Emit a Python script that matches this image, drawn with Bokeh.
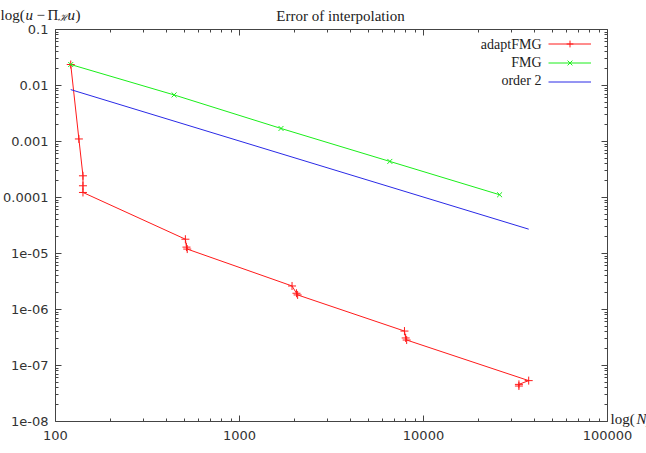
from bokeh.plotting import figure
from bokeh.models import LogAxis, FixedTicker, Label, Legend, LegendItem, Range1d
from bokeh.embed import file_html
from bokeh.resources import INLINE

# ---- data ----
adapt_n = [121, 134, 141, 141, 141, 508, 515, 520, 1930, 2040, 2070, 7880, 8000, 8100, 37300, 33000, 33000]
adapt_err = [0.0237, 1.11e-3, 2.44e-4, 1.62e-4, 1.23e-4, 1.8e-5, 1.3e-5, 1.2e-5,
             2.63e-6, 1.95e-6, 1.82e-6, 4.12e-7, 3.1e-7, 2.85e-7, 5.37e-8, 4.6e-8, 4.3e-8]
fmg_n = [121, 441, 1681, 6561, 25921]
fmg_err = [0.0237, 0.00679, 0.00171, 4.41e-4, 1.12e-4]
order2_n = [121, 37300]
order2_err = [8.45e-3, 2.72e-5]

series_names = ["adaptFMG", "FMG", "order 2"]
x_ticks = [100, 1000, 10000, 100000]
x_tick_labels = ["100", "1000", "10000", "100000"]
y_ticks = [1e-8, 1e-7, 1e-6, 1e-5, 1e-4, 1e-3, 1e-2, 1e-1]
y_tick_labels = ["1e-08", "1e-07", "1e-06", "1e-05", "0.0001", "0.001", "0.01", "0.1"]
title_text = "Error of interpolation"

# ---- layout: the visible box (axes) inside a full-canvas frame ----
W, H = 646, 453
BOX_L, BOX_R, BOX_T, BOX_B = 55, 607, 29, 421
XLO, XHI = 100, 1e5
YLO, YHI = 1e-8, 0.1
xdec = (BOX_R - BOX_L) / 3.0
ydec = (BOX_B - BOX_T) / 7.0
x_min = 10 ** (2 - BOX_L / xdec)
x_max = 10 ** (5 + (W - BOX_R) / xdec)
y_max = 10 ** (-1 + BOX_T / ydec)
y_min = 10 ** (-8 - (H - BOX_B) / ydec)

x_minor = [k * 10 ** d for d in range(2, 5) for k in range(2, 10)]
y_minor = [k * 10.0 ** d for d in range(-8, -1) for k in range(2, 10)]

p = figure(width=W, height=H, x_axis_type="log", y_axis_type="log",
           x_range=Range1d(x_min, x_max), y_range=Range1d(y_min, y_max),
           output_backend="svg", toolbar_location=None, min_border=0)
p.xgrid.visible = False
p.ygrid.visible = False
p.outline_line_color = None
p.background_fill_color = "white"
p.border_fill_color = "white"

TICK_FONT = "DejaVu Sans"
SERIF = "Liberation Serif"
AX = "#444444"

def style_axis(ax, show_labels, standoff):
    ax.axis_line_color = AX
    ax.major_tick_line_color = AX
    ax.minor_tick_line_color = AX
    ax.major_tick_in = 6
    ax.major_tick_out = 0
    ax.minor_tick_in = 3
    ax.minor_tick_out = 0
    ax.major_label_text_font = TICK_FONT
    ax.major_label_text_font_size = "13px" if show_labels else "0px"
    ax.major_label_text_color = "#333333"
    ax.major_label_standoff = standoff

xa = p.xaxis[0]
ya = p.yaxis[0]
xa.ticker = FixedTicker(ticks=x_ticks, minor_ticks=x_minor)
ya.ticker = FixedTicker(ticks=y_ticks, minor_ticks=y_minor)
xa.major_label_overrides = {t: s for t, s in zip(x_ticks, x_tick_labels)}
ya.major_label_overrides = {t: s for t, s in zip(y_ticks, y_tick_labels)}
xa.fixed_location = YLO
xa.bounds = (XLO, XHI)
ya.fixed_location = XLO
ya.bounds = (YLO, YHI)
style_axis(xa, True, 9)
style_axis(ya, True, 7)

top_ax = LogAxis(ticker=FixedTicker(ticks=x_ticks, minor_ticks=x_minor),
                 fixed_location=YHI, bounds=(XLO, XHI))
right_ax = LogAxis(ticker=FixedTicker(ticks=y_ticks, minor_ticks=y_minor),
                   fixed_location=XHI, bounds=(YLO, YHI))
style_axis(top_ax, False, 0)
style_axis(right_ax, False, 0)
top_ax.major_label_overrides = {t: "" for t in x_ticks}
right_ax.major_label_overrides = {t: "" for t in y_ticks}
p.add_layout(top_ax, "above")
p.add_layout(right_ax, "right")

RED, GREEN, BLUE = "#ff1a1a", "#1aee1a", "#2a2ae6"

r1l = p.line(adapt_n, adapt_err, line_color=RED, line_width=1)
r1m = p.scatter(adapt_n, adapt_err, marker="cross", size=8, line_color=RED, line_width=1)
r2l = p.line(fmg_n, fmg_err, line_color=GREEN, line_width=1)
r2m = p.scatter(fmg_n, fmg_err, marker="x", size=7, line_color=GREEN, line_width=1)
r3l = p.line(order2_n, order2_err, line_color=BLUE, line_width=1)

legend = Legend(items=[LegendItem(label=" ", renderers=[r1l, r1m]),
                       LegendItem(label=" ", renderers=[r2l, r2m]),
                       LegendItem(label=" ", renderers=[r3l])],
                location=(548, H - 90), padding=0, margin=0, spacing=2,
                glyph_width=43, glyph_height=17, label_height=17, label_width=0,
                label_standoff=0, label_text_font_size="1px",
                border_line_alpha=0, background_fill_alpha=0)
p.add_layout(legend)

def lab(text, cx, cy, size="15px", align="left", baseline="middle", style="normal", color="#222222"):
    p.add_layout(Label(x=cx, y=H - cy, x_units="screen", y_units="screen", text=text,
                       text_align=align, text_baseline=baseline, text_font=SERIF,
                       text_font_size=size, text_font_style=style, text_color=color))

# legend texts
for name, cy in zip(series_names, [44, 62, 80]):
    lab(name, 541, cy, size="14px", align="right")

# title
lab(title_text, 340, 15, size="15px", align="center")

# y axis label: log(u − Π_H u)
YB = 14
lab("log(", 0, YB, baseline="alphabetic")
lab("u", 25, YB, baseline="alphabetic", style="italic")
lab("\u2212", 36, YB, baseline="alphabetic")
lab("\u03a0", 47, YB, baseline="alphabetic")
lab("\u210b", 57, YB + 3, size="10px", baseline="alphabetic", style="italic")
lab("u", 67, YB, baseline="alphabetic", style="italic")
lab(")", 75, YB, baseline="alphabetic")

# x axis label: log(N)
lab("log(", 610, 418)
lab("N)", 636, 418, style="italic")

open("out.html", "w").write(file_html(p, INLINE))
